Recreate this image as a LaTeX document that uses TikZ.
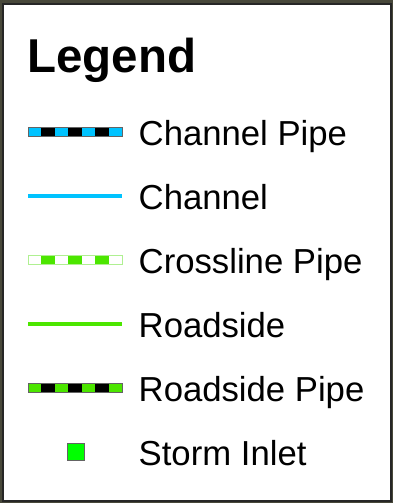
\documentclass[tikz,border=0pt]{standalone}
\usepackage{fontspec}
\setmainfont{Liberation Sans}
\usetikzlibrary{positioning}
\definecolor{chancyan}{RGB}{0,195,255}
\definecolor{roadgreen}{RGB}{76,230,0}
\definecolor{inletgreen}{RGB}{0,255,0}
\definecolor{crossedge}{RGB}{175,240,145}
\definecolor{pipeedge}{RGB}{100,100,100}
\definecolor{mapbg}{RGB}{72,72,58}
% pipe symbol: centre y, first colour, second colour, edge colour
\newcommand{\pipesym}[4]{%
  \fill[#2] (28,#1-4.5) rectangle (122,#1+4.5);
  \foreach \i in {1,3,5}
    \fill[#3] (28+\i*13.43,#1-4.5) rectangle ++(13.43,9);
  \draw[#4, line width=0.8pt] (28,#1-4.5) rectangle (122,#1+4.5);}

\begin{document}
\begin{tikzpicture}[x=1pt,y=-1pt,
  lbl/.style={anchor=base west, inner sep=0pt, font=\fontsize{34.7}{35}\selectfont},
  ttl/.style={anchor=base west, inner sep=0pt, font=\bfseries\fontsize{47.5}{48}\selectfont},
  lineshape/.style={line width=4pt},
  inlet/.style={draw=pipeedge, fill=inletgreen, minimum size=17pt, inner sep=0pt, line width=0.8pt}]
  \useasboundingbox (0,0) rectangle (393,503);
  % frame
  \fill[mapbg] (0,0) rectangle (393,503);
  \draw[fill=white, draw=black!85, line width=1.2pt] (3,4) rectangle (391,501);
  \node[ttl] (title) at (27,72.5) {Legend};
  % symbols
  \pipesym{132}{chancyan}{black}{pipeedge}
  \draw[lineshape, chancyan] (28,196) -- (122,196);
  \pipesym{260}{white}{roadgreen}{crossedge}
  \draw[lineshape, roadgreen] (28,324) -- (122,324);
  \pipesym{388}{roadgreen}{black}{pipeedge}
  \node[inlet] (inlet) at (75.5,451.5) {};
  % labels
  \node[lbl] (chpipe) at (138.5,145) {Channel Pipe};
  \node[lbl] (chan) at (138.5,209) {Channel};
  \node[lbl] (xpipe) at (138.5,273) {Crossline Pipe};
  \node[lbl] (road) at (138.5,337) {Roadside};
  \node[lbl] (rdpipe) at (138.5,401) {Roadside Pipe};
  \node[lbl] (inletlbl) at (138.5,465) {Storm Inlet};
\end{tikzpicture}
\end{document}
